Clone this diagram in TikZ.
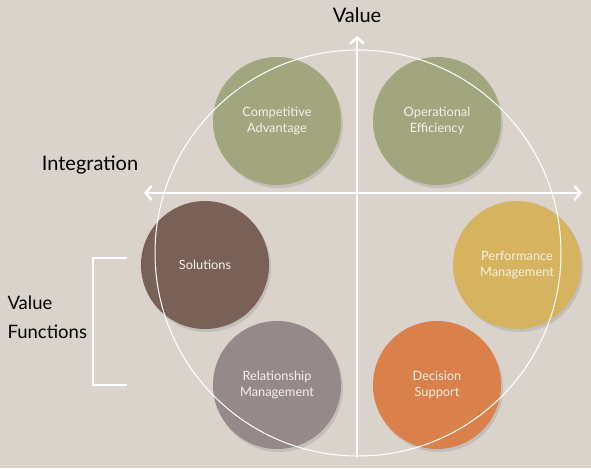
\documentclass[tikz,border=0pt]{standalone}
\usepackage{fontspec}
\setmainfont{Lato}
\usetikzlibrary{arrows.meta,shadows}
\definecolor{sfondo}{HTML}{DAD3CB}
\definecolor{salvia}{HTML}{A1A67E}
\definecolor{bruno}{HTML}{7A6158}
\definecolor{malva}{HTML}{958A89}
\definecolor{oro}{HTML}{D6B35F}
\definecolor{arancio}{HTML}{D9804B}
\definecolor{testo}{HTML}{F4F0E8}
\begin{document}
\begin{tikzpicture}[x=1pt,y=-1pt,
    disco/.style={circle, minimum size=128pt, inner sep=0pt, align=center, text=testo,
      font=\fontsize{12.8}{16}\selectfont,
      drop shadow={shadow xshift=2pt, shadow yshift=-3pt, opacity=0.25}},
    titolo/.style={font=\fontsize{20}{29}\selectfont, text=black},
    asse/.style={draw=white, line width=2.5pt, {Straight Barb[length=6pt,width=14pt]}-{Straight Barb[length=6pt,width=14pt]}}]
    \fill[sfondo] (0,0) rectangle (591,468);
    \useasboundingbox (0,0) rectangle (591,468);

    % Cerchi
    \node[disco, fill=salvia] (vantaggio) at (277,121) {Competitive\\Advantage};
    \node[disco, fill=salvia] (efficienza) at (437,121) {Operational\\Efficiency};
    \node[disco, fill=bruno] (soluzioni) at (205,265) {Solutions};
    \node[disco, fill=oro] (prestazioni) at (517,265) {Performance\\Management};
    \node[disco, fill=malva] (relazioni) at (277,385) {Relationship\\Management};
    \node[disco, fill=arancio] (decisioni) at (437,385) {Decision\\Support};

    % Cerchio grande
    \node[circle, draw=white, line width=1pt, minimum size=406pt] (giro) at (358,253) {};

    % Assi
    \coordinate (alto) at (357,36);
    \coordinate (basso) at (357,457);
    \coordinate (sx) at (144,193);
    \coordinate (dx) at (582,193);
    \draw[asse] (sx) -- (dx);
    \draw[asse, {Straight Barb[length=6pt,width=14pt]}-] (alto) -- (basso);

    % Titoli
    \node[titolo] (valore) at (357,15) {Value};
    \node[titolo] (integrazione) at (90,165) {Integration};
    \node[titolo, font=\fontsize{18.5}{29}\selectfont, align=left, anchor=west] (funzioni) at (4,317) {Value\\Functions};

    % Parentesi
    \coordinate (p1) at (127,258);
    \coordinate (p2) at (93,258);
    \coordinate (p3) at (93,385);
    \coordinate (p4) at (127,385);
    \draw[white, line width=2pt] (p1) -- (p2) -- (p3) -- (p4);
\end{tikzpicture}
\end{document}
